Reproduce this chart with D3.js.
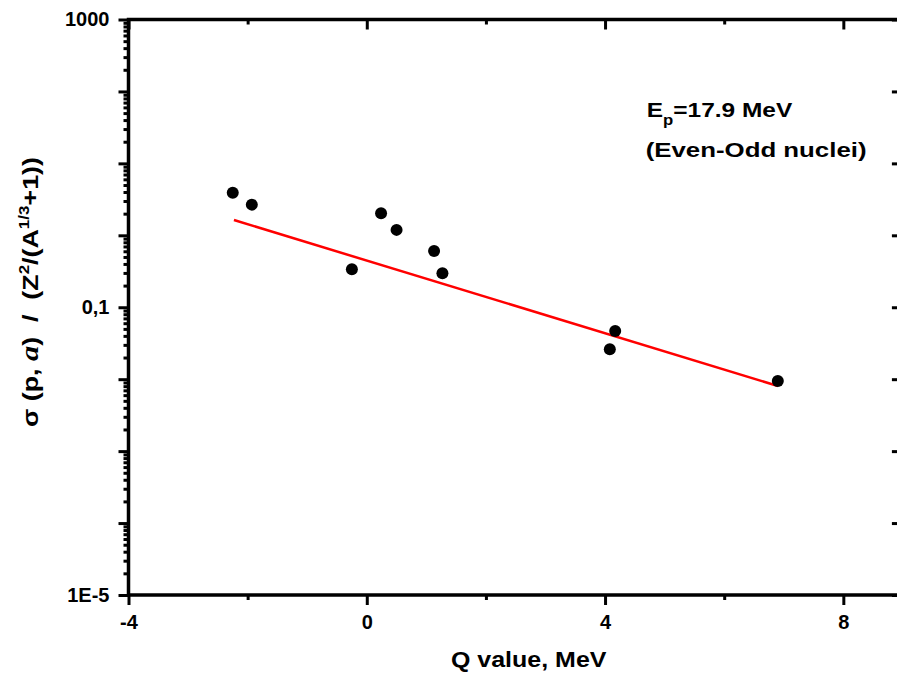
<!DOCTYPE html>
<html><head><meta charset="utf-8">
<script src="https://cdn.jsdelivr.net/npm/d3@7"></script>
<style>
html,body{margin:0;padding:0;overflow:hidden;background:#fff}
svg text{font-family:"Liberation Sans",Arial,sans-serif;font-weight:bold;fill:#000}
</style>
</head><body><svg id="chart" width="897" height="678"></svg>
<script>
// ---- data ----
const qValues     = [-2.25, -1.93, -0.25, 0.24, 0.50, 1.13, 1.27, 4.08, 4.17, 6.90];
const sigmaValues = [3.91, 2.67, 0.337, 2.02, 1.19, 0.605, 0.296, 0.0261, 0.0468, 0.00944];
const fitQ     = [-2.23, 6.90];
const fitSigma = [1.63, 0.00805];
const xMajorTicks = [-4, 0, 4, 8];
const xMinorTicks = [-2, 2, 6];
const yDecades = [1e-5, 1e-4, 1e-3, 1e-2, 1e-1, 1, 10, 100, 1000];
const yLabelValues = [1e-5, 0.1, 1000];
const yLabelTexts  = ["1E-5", "0,1", "1000"];
const xDomain = [-4, 9];
const yDomain = [1e-5, 1000];

// ---- layout ----
const L = 128.5, R = 902.9, T = 19.5, B = 595;
const svg = d3.select("#chart");
const x = d3.scaleLinear().domain(xDomain).range([L, R]);
const y = d3.scaleLog().domain(yDomain).range([B, T]);

const yMinor = [];
yDecades.slice(0, -1).forEach(d => { for (let m = 2; m <= 9; m++) yMinor.push(d * m); });

function styleAxis(g) {
  g.select(".domain").remove();
  g.selectAll(".tick line").attr("stroke", "#000").attr("stroke-width", 3);
  g.selectAll(".tick text").attr("font-size", 20).attr("font-family", null);
}

// bottom
svg.append("g").attr("transform", `translate(0,${B})`)
  .call(d3.axisBottom(x).tickValues(xMajorTicks).tickSize(10).tickPadding(10)
        .tickFormat(d => d3.format("d")(d).replace("−", "-")))
  .call(styleAxis);
svg.append("g").attr("transform", `translate(0,${B})`)
  .call(d3.axisBottom(x).tickValues(xMinorTicks).tickSize(5).tickFormat(""))
  .call(styleAxis);
// top
svg.append("g").attr("transform", `translate(0,${T})`)
  .call(d3.axisTop(x).tickValues(xMajorTicks).tickSize(-10).tickFormat(""))
  .call(styleAxis);
svg.append("g").attr("transform", `translate(0,${T})`)
  .call(d3.axisTop(x).tickValues(xMinorTicks).tickSize(-5).tickFormat(""))
  .call(styleAxis);
// left
svg.append("g").attr("transform", `translate(${L},0)`)
  .call(d3.axisLeft(y).tickValues(yDecades).tickSize(10).tickPadding(9)
        .tickFormat(d => { const i = yLabelValues.findIndex(v => Math.abs(Math.log10(v) - Math.log10(d)) < 1e-6); return i >= 0 ? yLabelTexts[i] : ""; }))
  .call(styleAxis);
svg.append("g").attr("transform", `translate(${L},0)`)
  .call(d3.axisLeft(y).tickValues(yMinor).tickSize(5).tickFormat(""))
  .call(styleAxis);
// right
svg.append("g").attr("transform", `translate(${R},0)`)
  .call(d3.axisRight(y).tickValues(yDecades).tickSize(-11).tickFormat(""))
  .call(styleAxis);
svg.append("g").attr("transform", `translate(${R},0)`)
  .call(d3.axisRight(y).tickValues(yMinor).tickSize(-5).tickFormat(""))
  .call(styleAxis);

// frame
svg.append("rect").attr("x", L).attr("y", T).attr("width", R - L).attr("height", B - T)
  .attr("fill", "none").attr("stroke", "#000").attr("stroke-width", 3.5);

// fit line
svg.append("path")
  .datum(fitQ.map((q, i) => [q, fitSigma[i]]))
  .attr("d", d3.line().x(d => x(d[0])).y(d => y(d[1])))
  .attr("fill", "none").attr("stroke", "#ff0000").attr("stroke-width", 2.5);

// points
svg.append("g").selectAll("circle")
  .data(qValues.map((q, i) => [q, sigmaValues[i]]))
  .join("circle")
  .attr("cx", d => x(d[0])).attr("cy", d => y(d[1])).attr("r", 6).attr("fill", "#000");

// helper: stretch text horizontally to a target width
function fitted(tx, ty, rot, anchor, size, target, build) {
  const g = svg.append("g");
  const t = g.append("text").attr("text-anchor", anchor).attr("font-size", size)
    .style("white-space", "pre");
  build(t);
  const w = t.node().getBBox().width;
  const k = target / w;
  g.attr("transform", `translate(${tx},${ty}) rotate(${rot}) scale(${k},1)`);
  return g;
}

// x title
fitted(528.7, 667, 0, "middle", 22, 156, t => t.text("Q value, MeV"));

// y title
fitted(38, 292, -90, "middle", 22, 270, t => {
  t.append("tspan").text("σ (p, ");
  t.append("tspan").text("a").attr("font-family", "Liberation Serif, serif").attr("font-style", "italic").attr("font-size", 25);
  t.append("tspan").text(")  /  (Z");
  t.append("tspan").text("2").attr("font-size", 14).attr("dy", -9);
  t.append("tspan").text("/(A").attr("dy", 9);
  t.append("tspan").text("1/3").attr("font-size", 14).attr("dy", -9);
  t.append("tspan").text("+1))").attr("dy", 9);
});

// annotation
fitted(646.7, 117.3, 0, "start", 20.5, 146, t => {
  t.append("tspan").text("E");
  t.append("tspan").text("p").attr("font-size", 14).attr("dy", 8);
  t.append("tspan").text("=17.9 MeV").attr("dy", -8);
});
fitted(645.7, 157.3, 0, "start", 20.5, 221, t => t.text("(Even-Odd nuclei)"));
</script>
</body></html>
